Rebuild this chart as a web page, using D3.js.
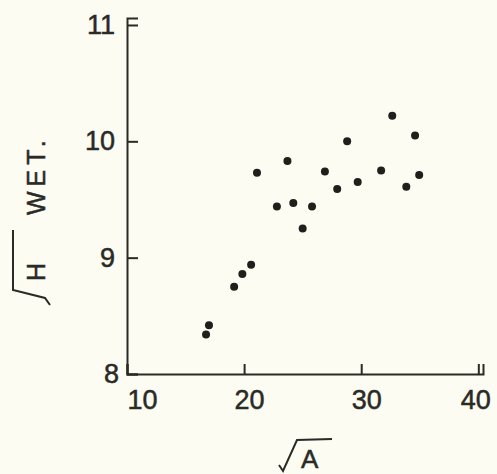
<!DOCTYPE html>
<html>
<head>
<meta charset="utf-8">
<script src="https://cdn.jsdelivr.net/npm/d3@7"></script>
<style>
  html, body { margin: 0; padding: 0; background: #fcfcf2; }
  svg { display: block; }
</style>
</head>
<body>
<svg width="497" height="474"></svg>
<script>
// valores (raiz de A, raiz de H)
const sqrtA = [16.75, 17.0, 19.15, 19.85, 20.6, 21.1, 22.8, 23.7, 24.2, 25.0,
               25.8, 26.9, 27.95, 28.8, 29.7, 31.7, 32.65, 33.85, 34.6, 34.95];
const sqrtH = [8.34, 8.42, 8.75, 8.86, 8.94, 9.73, 9.44, 9.83, 9.47, 9.25,
               9.44, 9.74, 9.59, 10.0, 9.65, 9.75, 10.22, 9.61, 10.05, 9.71];
const xTicks = [10, 20, 30, 40];
const yTicks = [8, 9, 10, 11];

const svg = d3.select("svg");
const ink = "#2a2a26";
const font = "Liberation Sans, Arial, sans-serif";

const x = d3.scaleLinear()
    .domain([10, 40.4])
    .range([127, 483]);

const y = d3.scaleLinear()
    .domain([8, 11.06])
    .range([374, 18]);

// eixo y, tics para dentro
const gy = svg.append("g")
    .attr("transform", "translate(" + x(10) + ",0)")
    .call(d3.axisLeft(y)
      .tickValues(yTicks)
      .tickSize(-11)
      .tickPadding(12)
      .tickFormat(d3.format("d")));

// eixo x, tics para cima
const gx = svg.append("g")
    .attr("transform", "translate(0," + y(8) + ")")
    .call(d3.axisBottom(x)
      .tickValues(xTicks)
      .tickSize(-10)
      .tickPadding(16)
      .tickFormat(d3.format("d")));

[gx, gy].forEach(g => {
  g.select(".domain").attr("stroke", ink).attr("stroke-width", 2);
  g.selectAll(".tick line").attr("stroke", ink).attr("stroke-width", 2);
  g.selectAll(".tick text")
    .attr("fill", ink)
    .attr("stroke", ink)
    .attr("stroke-width", 0.5)
    .attr("font-family", font)
    .attr("font-size", 27);
});

gx.selectAll(".tick text")
    .attr("dx", 5);
gx.selectAll(".tick text")
    .filter(d => d === xTicks[0])
    .attr("text-anchor", "start")
    .attr("dx", 0);
gx.selectAll(".tick text")
    .filter(d => d === xTicks[xTicks.length - 1])
    .attr("text-anchor", "end")
    .attr("dx", 12);

gy.selectAll(".tick text")
    .filter(d => d === yTicks[0])
    .attr("dx", 4);

// pontos
svg.append("g")
  .selectAll("circle")
  .data(sqrtA.map((a, i) => [a, sqrtH[i]]))
  .enter().append("circle")
    .attr("cx", d => x(d[0]))
    .attr("cy", d => y(d[1]))
    .attr("r", 4)
    .attr("fill", "#1f1f1c");

// título do eixo x: raiz de A
const tx = svg.append("g")
    .attr("transform", "translate(301,468)");
tx.append("text")
    .attr("font-family", font)
    .attr("font-size", 26)
    .attr("fill", ink)
    .attr("stroke", ink)
    .attr("stroke-width", 0.5)
    .text("A");
tx.append("path")
    .attr("d", "M-22,-3 L-18,3 L-4,-28 L31,-29")
    .attr("fill", "none")
    .attr("stroke", ink)
    .attr("stroke-width", 2);

// título do eixo y: raiz de H  WET.
const ty = svg.append("g")
    .attr("transform", "translate(45,281) rotate(-90)");
ty.append("text")
    .attr("font-family", font)
    .attr("font-size", 25)
    .attr("fill", ink)
    .attr("stroke", ink)
    .attr("stroke-width", 0.5)
    .text("H");
ty.append("text")
    .attr("x", 66)
    .attr("font-family", font)
    .attr("font-size", 25)
    .attr("letter-spacing", 5)
    .attr("fill", ink)
    .attr("stroke", ink)
    .attr("stroke-width", 0.5)
    .text("WET.");
ty.append("path")
    .attr("d", "M-24,5 L-17,0 L-9,-32 L51,-32")
    .attr("fill", "none")
    .attr("stroke", ink)
    .attr("stroke-width", 2);
</script>
</body>
</html>
